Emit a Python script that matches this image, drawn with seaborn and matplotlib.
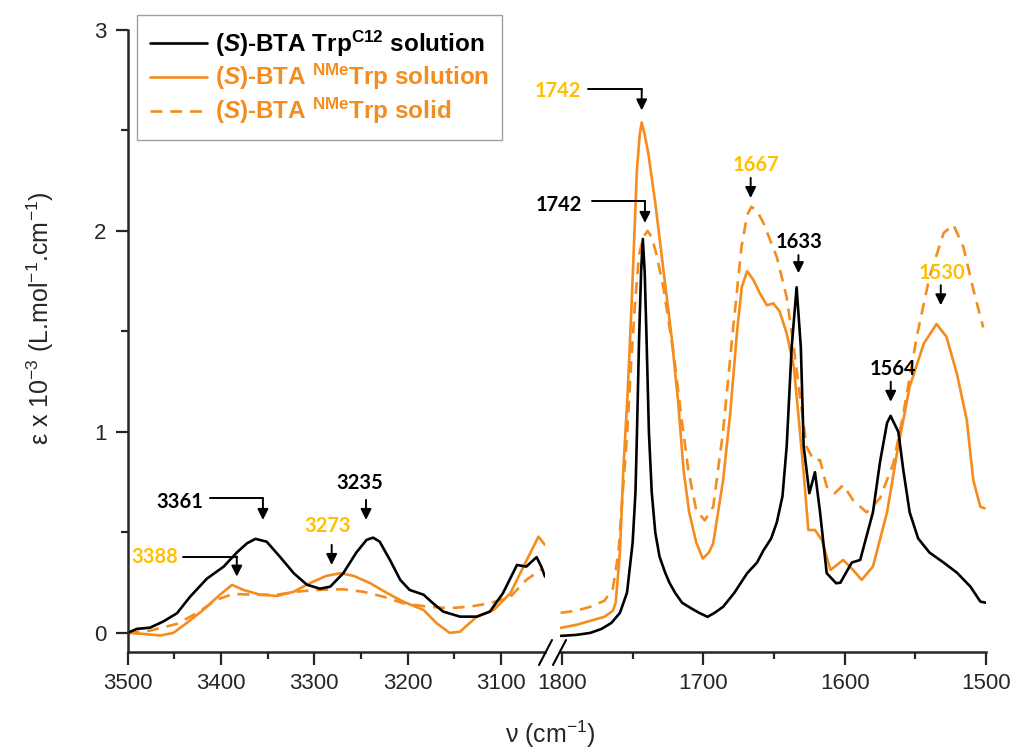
import pandas as pd
import seaborn as sns
import matplotlib.pyplot as plt
from matplotlib.lines import Line2D
from matplotlib.ticker import MultipleLocator

# ---- data: N-H stretch region (3500-3050 cm-1) ----
nh_x_c12 = [3500, 3490, 3476, 3462, 3447, 3433, 3415, 3397, 3383, 3372, 3363, 3351, 3337, 3322,
            3308, 3294, 3283, 3269, 3255, 3244, 3237, 3230, 3219, 3208, 3198, 3183, 3173, 3162,
            3144, 3126, 3112, 3098, 3083, 3073, 3062, 3057, 3053]
nh_y_c12 = [0.0, 0.02, 0.026, 0.056, 0.098, 0.18, 0.27, 0.33, 0.40, 0.446, 0.468, 0.454, 0.38, 0.297,
            0.24, 0.22, 0.23, 0.297, 0.40, 0.463, 0.474, 0.454, 0.363, 0.264, 0.214, 0.19, 0.148, 0.106,
            0.081, 0.081, 0.106, 0.198, 0.338, 0.33, 0.377, 0.33, 0.28]

nh_x_nme = [3500, 3483, 3465, 3451, 3437, 3419, 3401, 3388, 3376, 3358, 3340, 3322, 3305, 3287,
            3272, 3258, 3240, 3222, 3205, 3183, 3169, 3155, 3144, 3126, 3108, 3090, 3076, 3060, 3053]
nh_y_nme = [0.0, -0.005, -0.013, 0.0, 0.048, 0.114, 0.19, 0.239, 0.214, 0.19, 0.184, 0.205, 0.247, 0.284,
            0.297, 0.284, 0.247, 0.198, 0.156, 0.114, 0.048, 0.0, 0.006, 0.081, 0.114, 0.198, 0.33, 0.479, 0.438]

nh_x_solid = [3500, 3476, 3447, 3426, 3405, 3387, 3365, 3340, 3319, 3297, 3269, 3248, 3226, 3205,
              3180, 3155, 3133, 3112, 3090, 3073, 3055]
nh_y_solid = [0.0, 0.011, 0.045, 0.098, 0.164, 0.194, 0.19, 0.19, 0.205, 0.214, 0.217, 0.205, 0.18, 0.148,
              0.131, 0.123, 0.131, 0.148, 0.18, 0.264, 0.322]

# ---- data: C=O / amide region (1800-1500 cm-1) ----
co_x_c12 = [1801, 1790, 1780, 1772, 1765, 1759, 1754, 1750, 1748, 1747, 1745.5, 1744, 1742.8, 1741.5,
            1740.3, 1738.5, 1736.5, 1734, 1731, 1727, 1724, 1720, 1715, 1708, 1703, 1697, 1692, 1686,
            1678, 1669, 1662, 1657.5, 1652, 1648, 1644, 1641, 1637.5, 1634, 1631, 1629, 1625, 1621,
            1617.4, 1612.7, 1606, 1603, 1595, 1589, 1580, 1575, 1570, 1567.5, 1562, 1558.5, 1554, 1548,
            1540, 1530, 1520.6, 1511, 1504, 1500]
co_y_c12 = [-0.015, -0.01, 0.0, 0.02, 0.05, 0.1, 0.2, 0.45, 0.7, 0.98, 1.45, 1.8, 1.96, 1.8,
            1.5, 1.0, 0.7, 0.5, 0.38, 0.3, 0.25, 0.2, 0.15, 0.12, 0.1, 0.08, 0.1, 0.13,
            0.2, 0.297, 0.35, 0.41, 0.47, 0.55, 0.68, 0.93, 1.42, 1.72, 1.42, 0.93, 0.695, 0.80,
            0.6, 0.297, 0.247, 0.25, 0.35, 0.363, 0.6, 0.85, 1.045, 1.08, 1.0, 0.81, 0.6, 0.47,
            0.4, 0.35, 0.3, 0.23, 0.156, 0.15]

co_x_nme = [1801, 1790, 1780, 1770, 1764, 1762, 1759, 1756.6, 1753.5, 1750.7, 1747, 1745, 1743.6, 1741.5,
            1739, 1734, 1728.3, 1722.4, 1717.7, 1714, 1710, 1705, 1700.4, 1696, 1693, 1686, 1681, 1676,
            1672.8, 1669, 1664.6, 1660, 1655, 1650.5, 1646, 1641, 1636, 1632.8, 1629, 1625.7, 1621, 1616.2,
            1610, 1601, 1594, 1588, 1580, 1570, 1563, 1554, 1544, 1535, 1528, 1520.6, 1513.6, 1509,
            1504, 1501]
co_y_nme = [0.025, 0.04, 0.06, 0.08, 0.11, 0.15, 0.4, 0.81, 1.2, 1.64, 2.30, 2.48, 2.54, 2.48,
            2.39, 2.14, 1.81, 1.47, 1.14, 0.81, 0.6, 0.45, 0.37, 0.4, 0.446, 0.76, 1.09, 1.51,
            1.72, 1.80, 1.756, 1.69, 1.63, 1.64, 1.6, 1.49, 1.325, 1.09, 0.795, 0.512, 0.512, 0.463,
            0.313, 0.363, 0.313, 0.264, 0.33, 0.6, 0.894, 1.225, 1.44, 1.537, 1.474, 1.29, 1.06, 0.76,
            0.628, 0.62]

co_x_solid = [1801, 1790, 1780, 1770, 1764, 1760, 1757, 1754, 1751, 1748.3, 1745.5, 1742.5, 1739.5, 1736.5,
              1733, 1728.3, 1721, 1715.3, 1710.6, 1705, 1699, 1693, 1686, 1679, 1673, 1669, 1666, 1662,
              1657.5, 1648, 1641, 1636, 1631.6, 1627, 1622, 1617.4, 1612.7, 1607, 1601, 1594, 1584.5, 1575,
              1565.5, 1558.5, 1549, 1540, 1530, 1523, 1516, 1509, 1502]
co_y_solid = [0.1, 0.11, 0.13, 0.16, 0.22, 0.4, 0.7, 0.98, 1.35, 1.64, 1.88, 1.97, 2.0, 1.97,
              1.88, 1.72, 1.39, 1.06, 0.81, 0.61, 0.56, 0.628, 1.005, 1.51, 1.92, 2.08, 2.12, 2.1,
              2.04, 1.87, 1.67, 1.42, 1.176, 0.927, 0.86, 0.86, 0.728, 0.695, 0.736, 0.66, 0.6, 0.67,
              0.844, 1.09, 1.474, 1.77, 1.99, 2.03, 1.92, 1.71, 1.52]

series_labels = [r"($\mathit{S}$)-BTA Trp$^{\mathbf{C12}}$ solution",
                 r"($\mathit{S}$)-BTA $^{\mathbf{NMe}}$Trp solution",
                 r"($\mathit{S}$)-BTA $^{\mathbf{NMe}}$Trp solid"]

BLACK = "#000000"
ORANGE = "#F58C1E"
GOLD = "#FFC000"

sns.set_style("ticks")
plt.rcParams["font.family"] = ["Liberation Sans", "DejaVu Sans"]
plt.rcParams["mathtext.fontset"] = "custom"
plt.rcParams["mathtext.rm"] = "Liberation Sans"
plt.rcParams["mathtext.it"] = "Liberation Sans:italic:bold"
plt.rcParams["mathtext.bf"] = "Liberation Sans:bold"

W, H = 1011, 753
fig = plt.figure(figsize=(W / 100, H / 100), dpi=100)
bottom, height = 1 - 652 / H, 622 / H
ax1 = fig.add_axes([127.5 / W, bottom, (545 - 127.5) / W, height])
ax2 = fig.add_axes([560 / W, bottom, (986 - 560) / W, height])


def draw(ax, x, y, color, label, dashed=False):
    df = pd.DataFrame({"x": x, "y": y})
    sns.lineplot(data=df, x="x", y="y", ax=ax, color=color, lw=1.9, sort=False,
                 estimator=None, label=label)
    if dashed:
        ax.lines[-1].set_dashes((4.5, 3))


draw(ax1, nh_x_solid, nh_y_solid, ORANGE, series_labels[2], dashed=True)
draw(ax1, nh_x_nme, nh_y_nme, ORANGE, series_labels[1])
draw(ax1, nh_x_c12, nh_y_c12, BLACK, series_labels[0])
draw(ax2, co_x_solid, co_y_solid, ORANGE, series_labels[2], dashed=True)
draw(ax2, co_x_nme, co_y_nme, ORANGE, series_labels[1])
draw(ax2, co_x_c12, co_y_c12, BLACK, series_labels[0])

for ax in (ax1, ax2):
    if ax.get_legend():
        ax.get_legend().remove()
    ax.set_ylim(-0.095, 3.0)
    ax.set_xlabel("")
    ax.set_ylabel("")
    for s in ("top", "right"):
        ax.spines[s].set_visible(False)
    ax.spines["bottom"].set_linewidth(1.8)
    ax.tick_params(which="major", direction="out", length=9, width=1.6, labelsize=16, pad=6)
    ax.tick_params(which="minor", direction="out", length=5, width=1.6)

ax1.set_xlim(3500, 3053)
ax1.set_xticks([3500, 3400, 3300, 3200, 3100])
ax1.xaxis.set_minor_locator(MultipleLocator(50))
ax1.set_yticks([0, 1, 2, 3])
ax1.yaxis.set_minor_locator(MultipleLocator(0.5))
ax1.spines["left"].set_linewidth(1.8)

ax2.set_xlim(1801.4, 1500)
ax2.set_xticks([1800, 1700, 1600, 1500])
ax2.xaxis.set_minor_locator(MultipleLocator(50))
ax2.spines["left"].set_visible(False)
ax2.set_yticks([])
ax2.tick_params(axis="y", which="both", left=False)

# axis break marks
for (x0, y0, x1, y1) in [(539, 665, 552, 640), (553, 665, 566, 640)]:
    fig.add_artist(Line2D([x0 / W, x1 / W], [1 - y0 / H, 1 - y1 / H], color="k", lw=1.5))

# peak annotations: text, color, text pos, arrow x, arrow top, arrow tip, elbow start
peaks_nh = [("3361", BLACK, 3444, 0.652, 3355, 0.67, 0.562, 3411.7),
            ("3235", BLACK, 3251, 0.744, 3244.6, 0.662, 0.562, None),
            ("3273", GOLD, 3286, 0.53, 3281.4, 0.438, 0.338, None),
            ("3388", GOLD, 3470.6, 0.376, 3383, 0.38, 0.28, 3441)]
peaks_co = [("1742", GOLD, 1803, 2.695, 1743.6, 2.705, 2.60, 1781.4),
            ("1742", BLACK, 1802, 2.13, 1741.3, 2.15, 2.04, 1779),
            ("1667", GOLD, 1662.7, 2.33, 1666.5, 2.264, 2.164, None),
            ("1633", BLACK, 1632.3, 1.943, 1632.7, 1.88, 1.79, None),
            ("1564", BLACK, 1566, 1.313, 1567.4, 1.25, 1.15, None),
            ("1530", GOLD, 1531.3, 1.79, 1532, 1.73, 1.63, None)]

for ax, peaks in ((ax1, peaks_nh), (ax2, peaks_co)):
    for txt, col, tx, ty, axx, y0, y1, ex in peaks:
        ax.text(tx, ty, txt, color=col, ha="center", va="center", family="Lato",
                fontweight="bold", fontsize=14.5, clip_on=False)
        if ex is not None:
            ax.plot([ex, axx], [y0, y0], color="k", lw=1.4, clip_on=False)
        ax.annotate("", xy=(axx, y1), xytext=(axx, y0), annotation_clip=False,
                    arrowprops=dict(arrowstyle="-|>", color="k", lw=1.4,
                                    mutation_scale=16, shrinkA=0, shrinkB=0))

fig.text(40 / W, 1 - 318 / H, r"ε x 10$^{-3}$ (L.mol$^{-1}$.cm$^{-1}$)",
         rotation=90, ha="center", va="center", fontsize=18)
fig.text(550 / W, 1 - 734 / H, r"ν (cm$^{-1}$)", ha="center", va="center", fontsize=18)

handles, labels = ax2.get_legend_handles_labels()
order = [2, 1, 0]
leg = fig.legend([handles[i] for i in order], [labels[i] for i in order],
                 loc="upper left", bbox_to_anchor=(137 / W, 1 - 15 / H), borderaxespad=0,
                 frameon=True, fancybox=False, edgecolor="#8a8a8a",
                 prop={"weight": "bold", "size": 17.5}, handlelength=2.35,
                 handletextpad=0.3, labelspacing=0.15, borderpad=0.55)
leg.get_frame().set_linewidth(1.0)
for t, c in zip(leg.get_texts(), [BLACK, ORANGE, ORANGE]):
    t.set_color(c)

fig.savefig("out.png", dpi=100)
